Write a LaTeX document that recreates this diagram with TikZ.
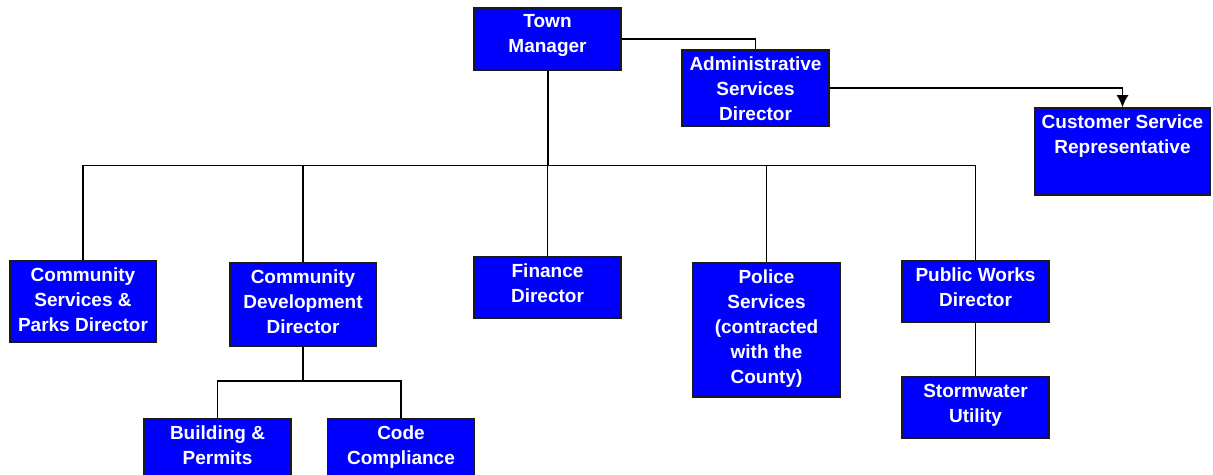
\documentclass[tikz,border=0pt]{standalone}
\usepackage{fontspec}
\setmainfont{Liberation Sans}
\usepackage{xcolor}
\usetikzlibrary{arrows.meta}
\definecolor{BoxBlue}{HTML}{0000FF}
\definecolor{EdgeGray}{HTML}{1A1A1A}
\newcommand\nodetm{Town\\Manager}
\newcommand\nodeasd{Administrative\\Services\\Director}
\newcommand\nodecsr{Customer Service\\Representative}
\newcommand\nodecspd{Community\\Services \&\\Parks Director}
\newcommand\nodecdd{Community\\Development\\Director}
\newcommand\nodefin{Finance\\Director}
\newcommand\nodepol{Police\\Services\\(contracted\\with the\\County)}
\newcommand\nodepwd{Public Works\\Director}
\newcommand\nodesw{Stormwater\\Utility}
\newcommand\nodebp{Building \&\\Permits}
\newcommand\nodecc{Code\\Compliance}
% box of given width and height, text at the top
\newcommand\boxtext[3]{\parbox[c][#2][t]{#1}{\centering\vspace*{3.4pt}#3}}
\tikzstyle{orgbox} = [rectangle, inner sep=0pt, draw=EdgeGray, fill=BoxBlue, text=white, line width=0.75pt, font=\bfseries\fontsize{9.5}{12.5}\selectfont]
\tikzset{every picture/.style={line width=0.8pt}}

\begin{document}
\begin{tikzpicture}[x=0.5pt, y=-0.5pt]
\useasboundingbox (0,0) rectangle (1213,475);
\node[orgbox] (tm) at (547.5, 39) {\boxtext{73.5pt}{31pt}{\nodetm}};
\node[orgbox] (asd) at (755.5, 88) {\boxtext{73.5pt}{38pt}{\nodeasd}};
\node[orgbox] (csr) at (1122.5, 151.5) {\boxtext{87.5pt}{43.5pt}{\nodecsr}};
\node[orgbox] (cspd) at (83, 301.5) {\boxtext{73pt}{40.5pt}{\nodecspd}};
\node[orgbox] (cdd) at (303, 304.5) {\boxtext{73pt}{41.5pt}{\nodecdd}};
\node[orgbox] (fin) at (547.5, 287.5) {\boxtext{73.5pt}{30.5pt}{\nodefin}};
\node[orgbox] (pol) at (766.5, 330) {\boxtext{73.5pt}{67pt}{\nodepol}};
\node[orgbox] (pwd) at (975.5, 291.5) {\boxtext{73.5pt}{30.5pt}{\nodepwd}};
\node[orgbox] (sw) at (975.5, 407.5) {\boxtext{73.5pt}{30.5pt}{\nodesw}};
\node[orgbox] (bp) at (217.5, 449.5) {\boxtext{73.5pt}{30.5pt}{\nodebp}};
\node[orgbox] (cc) at (401, 449.5) {\boxtext{73.5pt}{30.5pt}{\nodecc}};
\coordinate (bus) at (547.5, 165.5);
\coordinate (cddbus) at (303, 381);
\draw (tm.east) -| (asd.north);
\draw [-{Latex[length=6pt, width=6pt]}] (asd.east) -| (csr.north);
\draw [line width=1pt] (tm.south) -- (bus);
\draw (bus) -| (cspd.north);
\draw (bus) -| (cdd.north);
\draw (bus) -- (fin.north);
\draw (bus) -| (pol.north);
\draw (bus) -| (pwd.north);
\draw (cdd.south) -- (cddbus);
\draw (cddbus) -| (bp.north);
\draw (cddbus) -| (cc.north);
\draw (pwd.south) -- (sw.north);
\end{tikzpicture}
\end{document}
